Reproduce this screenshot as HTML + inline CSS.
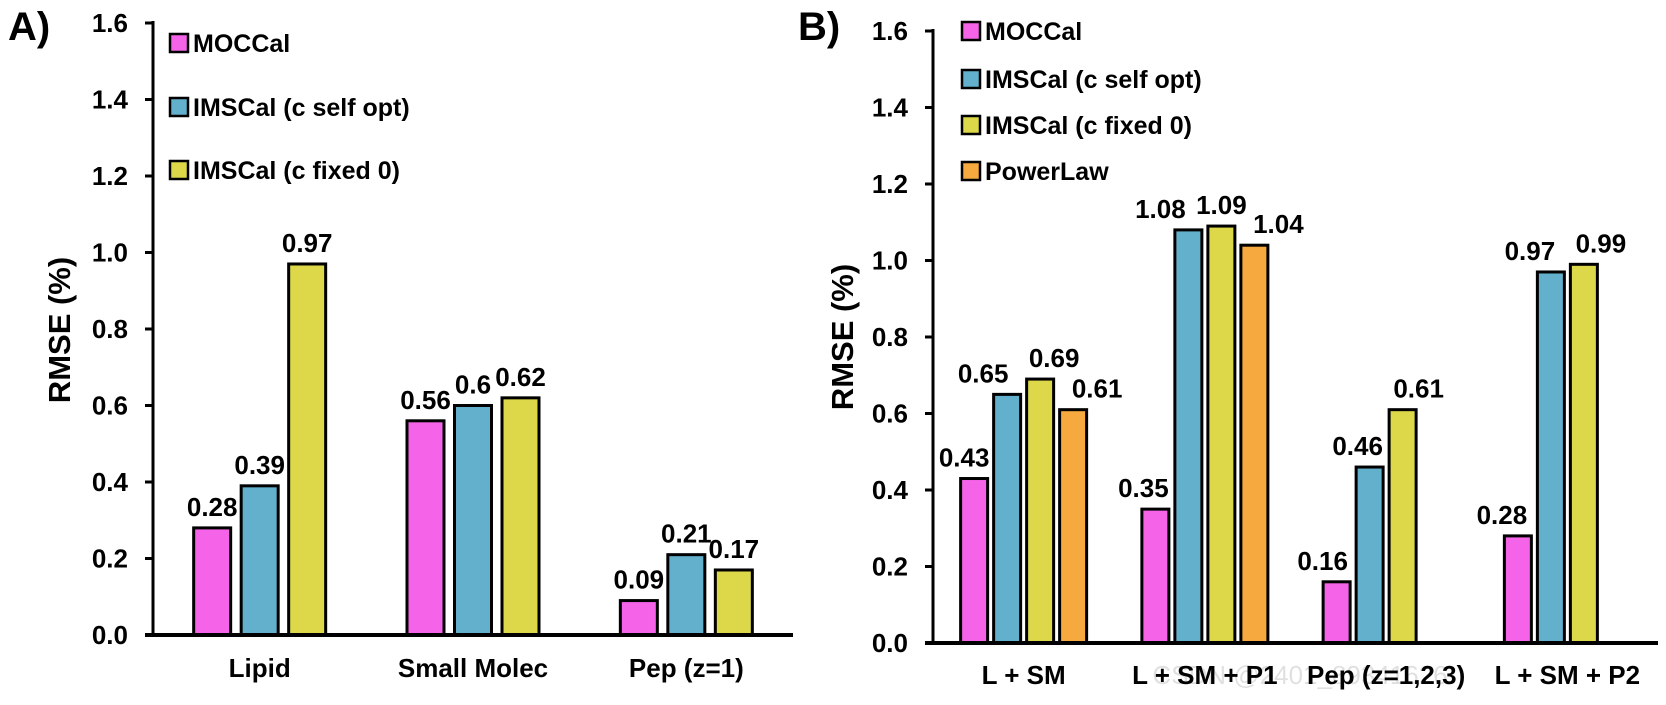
<!DOCTYPE html>
<html><head><meta charset="utf-8"><style>
body{margin:0;background:#fff}
svg{display:block;font-family:"Liberation Sans",Arial,sans-serif;font-weight:bold}
</style></head><body>
<svg id="c" width="1666" height="705" viewBox="0 0 1666 705"></svg>
<script>
const seriesNames=["MOCCal","IMSCal (c self opt)","IMSCal (c fixed 0)","PowerLaw"];
const colors=["#F564E8","#63B0CC","#DCD84A","#F5A93E"];
const catsA=["Lipid","Small Molec","Pep (z=1)"];
const valsA=[[0.28,0.39,0.97],[0.56,0.6,0.62],[0.09,0.21,0.17]];
const labelsA=[["0.28","0.39","0.97"],["0.56","0.6","0.62"],["0.09","0.21","0.17"]];
const catsB=["L + SM","L + SM + P1","Pep (z=1,2,3)","L + SM + P2"];
const valsB=[[0.43,0.65,0.69,0.61],[0.35,1.08,1.09,1.04],[0.16,0.46,0.61],[0.28,0.97,0.99]];
const labelsB=[["0.43","0.65","0.69","0.61"],["0.35","1.08","1.09","1.04"],["0.16","0.46","0.61"],["0.28","0.97","0.99"]];
const ticks=["0.0","0.2","0.4","0.6","0.8","1.0","1.2","1.4","1.6"];
// label horizontal nudges (layout only) for panel B
const nudgeB=[[-10,-24,14,24],[-12,-28,0,24],[-14,-12,16],[-16,-21,17]];
const NS="http://www.w3.org/2000/svg";
const svg=document.getElementById('c');
function mk(t,a,p){const e=document.createElementNS(NS,t);for(const k in a)e.setAttribute(k,a[k]);(p||svg).appendChild(e);return e;}
function panel(cfg){
  const g=mk('g',{});
  
  
  const y=v=>cfg.y0-(v/1.6)*(cfg.y0-cfg.yTop);
  const bw=(cfg.x1-cfg.x0)/cfg.cats.length;
  ticks.forEach(t=>{
    const v=parseFloat(t),yy=y(v);
    const l=mk('line',{x1:cfg.x0-8,x2:cfg.x0,y1:yy,y2:yy,stroke:'#000','stroke-width':3},g);
    
    
    const tx=mk('text',{x:cfg.x0-25,y:yy+9,'text-anchor':'end','font-size':26},g);
    tx.textContent=t;
    
    
  });
  cfg.cats.forEach((c,i)=>{
    const cx=cfg.x0+bw*(i+0.5);
    const start=cx-cfg.pitch*(cfg.nslots-1)/2;
    cfg.vals[i].forEach((v,j)=>{
      const bx=start+j*cfg.pitch-cfg.bwid/2;
      const r=mk('rect',{x:bx,y:y(v),width:cfg.bwid,height:y(0)-y(v),fill:colors[j],stroke:'#000','stroke-width':3},g);
      
      
      const dx=cfg.nudge?cfg.nudge[i][j]:0;
      const t=mk('text',{x:bx+cfg.bwid/2+dx,y:y(v)-12,'text-anchor':'middle','font-size':26},g);
      t.textContent=cfg.labels[i][j];
      
      
    });
    const cl=mk('text',{x:cx,y:cfg.catY,'text-anchor':'middle','font-size':26},g);
    cl.textContent=c;
    
    
  });
  const ya=mk('line',{x1:cfg.x0,x2:cfg.x0,y1:cfg.yTop-2,y2:cfg.y0,stroke:'#000','stroke-width':3},g);
  
  
  const xa=mk('line',{x1:cfg.x0-8,x2:cfg.x1,y1:cfg.y0,y2:cfg.y0,stroke:'#000','stroke-width':4},g);
  
  
  const yt=mk('text',{x:0,y:0,'text-anchor':'middle','font-size':31,transform:`translate(${cfg.titleX},${cfg.titleY}) rotate(-90)`},g);
  yt.textContent='RMSE (%)';
  
  
  const pl=mk('text',{x:cfg.plX,y:40,'font-size':40},g);
  pl.textContent=cfg.panelLabel;
  
  
  cfg.legY.forEach((ly,j)=>{
    const s=mk('rect',{x:cfg.legX,y:ly-9,width:18,height:18,fill:colors[j],stroke:'#000','stroke-width':2.5},g);
    
    
    const t=mk('text',{x:cfg.legX+23,y:ly+9,'font-size':25},g);
    t.textContent=seriesNames[j];
    
    
  });
}
panel({name:'panel-a',cats:catsA,vals:valsA,labels:labelsA,x0:153,x1:793,y0:635,yTop:23,nslots:3,pitch:47.5,bwid:37,catY:677,titleX:70,titleY:330,plX:8,panelLabel:'A)',legX:170,legY:[43,107,170]});
panel({name:'panel-b',cats:catsB,vals:valsB,labels:labelsB,nudge:nudgeB,x0:933,x1:1658,y0:643,yTop:31,nslots:4,pitch:33,bwid:27,catY:684,titleX:853,titleY:337,plX:798,panelLabel:'B)',legX:962,legY:[31,79,125,171]});
const wm=mk('text',{x:1300,y:684,'text-anchor':'middle','font-size':26,fill:'#000','fill-opacity':0.12,'font-weight':'normal'});
wm.textContent='CSDN @2401_89341626';


</script>
</body></html>
